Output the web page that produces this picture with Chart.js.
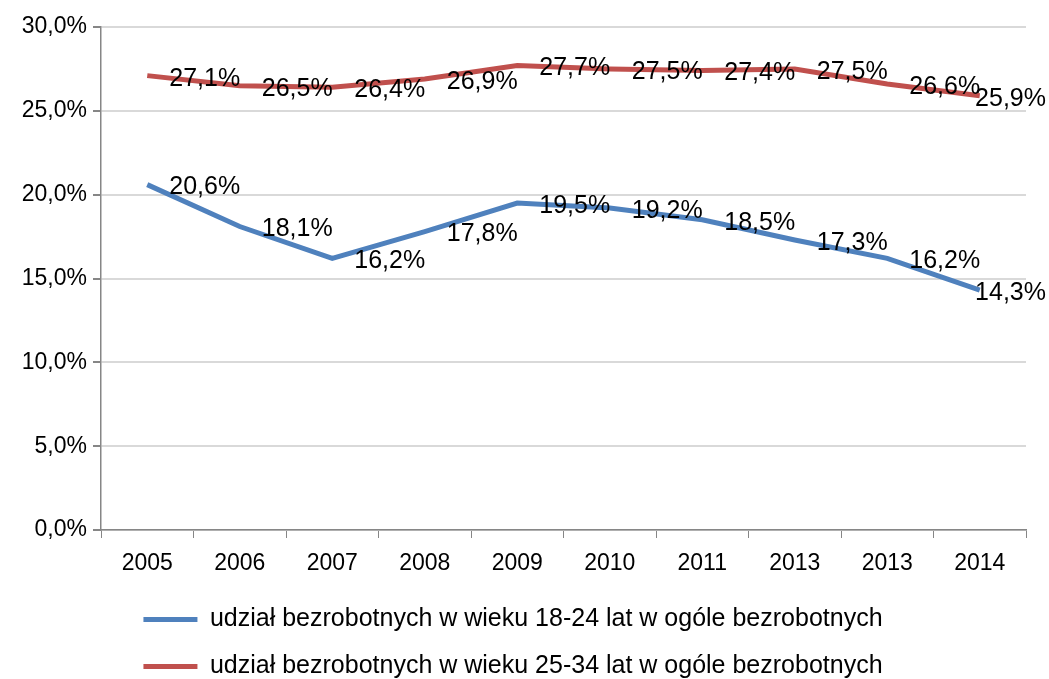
<!DOCTYPE html>
<html>
<head>
<meta charset="utf-8">
<script src="https://cdn.jsdelivr.net/npm/chart.js@4/dist/chart.umd.min.js"></script>
<style>
  html, body { margin: 0; padding: 0; background: #fff; }
  #wrap { width: 1049px; height: 679px; }
</style>
</head>
<body>
<div id="wrap"><canvas id="chart" width="1049" height="679"></canvas></div>
<script>
const years = ['2005', '2006', '2007', '2008', '2009', '2010', '2011', '2013', '2013', '2014'];
const young = [20.6, 18.1, 16.2, 17.8, 19.5, 19.2, 18.5, 17.3, 16.2, 14.3];
const older = [27.1, 26.5, 26.4, 26.9, 27.7, 27.5, 27.4, 27.5, 26.6, 25.9];
const seriesNames = [
  'udział bezrobotnych w wieku 18-24 lat w ogóle bezrobotnych',
  'udział bezrobotnych w wieku 25-34 lat w ogóle bezrobotnych'
];

const fontName = '"Liberation Sans", Arial, sans-serif';
const pct = v => v.toFixed(1).replace('.', ',') + '%';

// labels to the right of each point, pushed back in if they hit the edge
const pointLabels = {
  id: 'pointLabels',
  afterDatasetsDraw(chart) {
    const ctx = chart.ctx;
    ctx.save();
    ctx.font = '25px ' + fontName;
    ctx.fillStyle = '#000';
    ctx.textAlign = 'left';
    ctx.textBaseline = 'middle';
    chart.data.datasets.forEach((ds, i) => {
      chart.getDatasetMeta(i).data.forEach((pt, j) => {
        const txt = pct(ds.data[j]);
        const w = ctx.measureText(txt).width;
        const x = Math.min(pt.x + 22, chart.width - 3 - w);
        ctx.fillText(txt, x, pt.y + 3);
      });
    });
    ctx.restore();
  }
};

const ctx = document.getElementById('chart');
const chart = new Chart(ctx, {
  type: 'line',
  data: {
    labels: years,
    datasets: [{
      label: seriesNames[0],
      data: young,
      borderColor: '#4F81BD',
      backgroundColor: '#4F81BD',
      borderWidth: 5,
      pointRadius: 0,
      tension: 0
    }, {
      label: seriesNames[1],
      data: older,
      borderColor: '#C0504D',
      backgroundColor: '#C0504D',
      borderWidth: 5,
      pointRadius: 0,
      tension: 0
    }]
  },
  options: {
    responsive: false,
    animation: false,
    layout: { padding: { top: 27, right: 23, left: 0, bottom: -10 } },
    scales: {
      x: {
        offset: true,
        grid: { offset: true, drawOnChartArea: false, tickLength: 8, tickColor: '#868686' },
        border: { color: '#868686', width: 1.5 },
        ticks: { color: '#000', padding: 12, font: { family: fontName, size: 23 } },
        afterFit: s => { s.height = 55; }
      },
      y: {
        min: 0,
        max: 30,
        grid: { color: '#d9d9d9', lineWidth: 2, tickLength: 8, tickColor: '#868686' },
        border: { color: '#868686', width: 1.5 },
        ticks: {
          stepSize: 5,
          color: '#000',
          padding: 6,
          font: { family: fontName, size: 23 },
          callback: v => pct(v)
        },
        afterFit: s => { s.width = 101; }
      }
    },
    plugins: {
      legend: {
        position: 'bottom',
        labels: {
          usePointStyle: true,
          pointStyle: 'line',
          pointStyleWidth: 54,
          boxWidth: 54,
          padding: 22,
          color: '#000',
          font: { family: fontName, size: 25 }
        }
      },
      tooltip: { enabled: false },
      title: { display: false }
    }
  },
  plugins: [pointLabels]
});
</script>
</body>
</html>
